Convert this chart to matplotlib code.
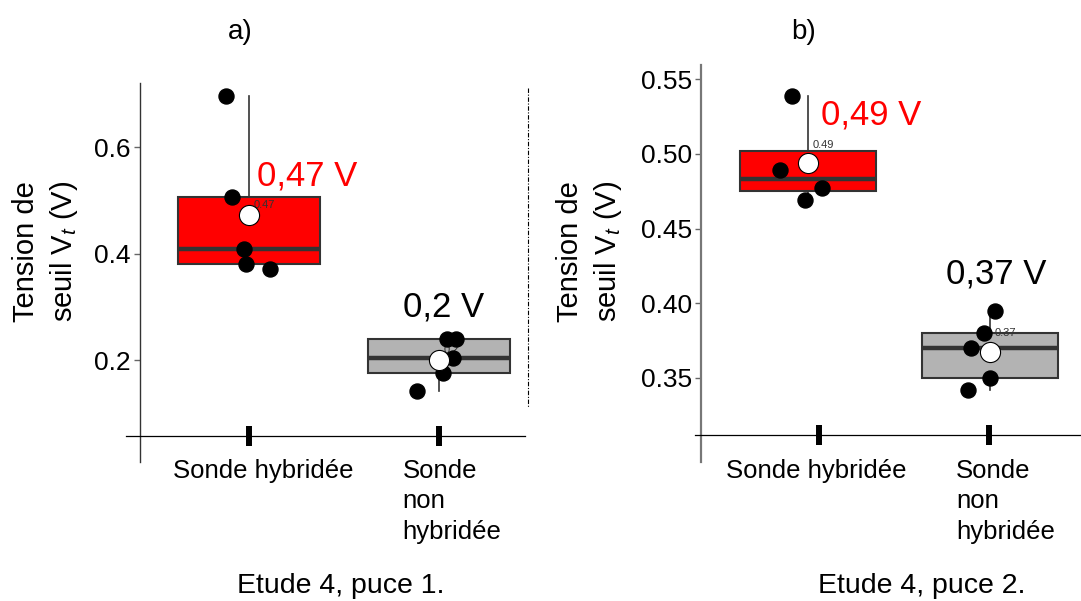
import numpy as np
import matplotlib.pyplot as plt
from matplotlib import transforms
from matplotlib.lines import Line2D
from matplotlib.ticker import FormatStrFormatter

plt.rcParams['font.family'] = ['Liberation Sans', 'DejaVu Sans']
plt.rcParams['mathtext.fontset'] = 'custom'
plt.rcParams['mathtext.rm'] = 'Liberation Sans'
plt.rcParams['mathtext.it'] = 'Liberation Sans:italic'

categories = ['Sonde hybridée', 'Sonde\nnon\nhybridée']
fills = ['#ff0000', '#b3b3b3']
label_colors = ['#ff0000', 'black']

# Etude 4, puce 1 : tension de seuil (V)
p1_hyb = [0.695, 0.507, 0.409, 0.380, 0.371]
p1_non = [0.142, 0.239, 0.240, 0.204, 0.176]
p1_hyb_jit = [-0.122, -0.091, -0.026, -0.016, 0.110]
p1_non_jit = [-0.117, 0.040, 0.089, 0.072, 0.019]
p1_yticks = [0.2, 0.4, 0.6]

# Etude 4, puce 2
p2_hyb = [0.5386, 0.4895, 0.4772, 0.4694]
p2_non = [0.3949, 0.3800, 0.3700, 0.3498, 0.3419]
p2_hyb_jit = [-0.090, -0.152, 0.077, -0.019]
p2_non_jit = [0.025, -0.034, -0.104, 0.000, -0.123]
p2_yticks = [0.35, 0.40, 0.45, 0.50, 0.55]

W, H = 1081, 601
fig = plt.figure(figsize=(W / 100, H / 100), dpi=100)


def px_axes(l, t, r, b):
    return fig.add_axes([l / W, 1 - b / H, (r - l) / W, (b - t) / H])


def fmt_mean(v):
    return f"{round(v, 2):g}"


def draw_panel(box_px, xlim, ylim, data, jit, yticks, yfmt, spine_col, spine_lw,
               axis_px, axis_xlim, lab_dx, big_pos, small_dy, title, title_x,
               caption, caption_x, ylab_x):
    ax = px_axes(*box_px)
    bp = ax.boxplot(data, positions=[0, 1], widths=0.75, patch_artist=True,
                    showfliers=False, showcaps=False,
                    boxprops=dict(edgecolor='#333333', linewidth=1.5),
                    medianprops=dict(color='#333333', linewidth=3.2),
                    whiskerprops=dict(color='#333333', linewidth=1.2))
    for patch, c in zip(bp['boxes'], fills):
        patch.set_facecolor(c)

    for i, (vals, dx) in enumerate(zip(data, jit)):
        m = np.mean(vals)
        ax.plot(i + np.array(dx), vals, 'o', ms=10.8, color='black', zorder=4)
        ax.plot(i, m, 'o', ms=14.5, mfc='white', mec='black', mew=0.8, zorder=5)
        ax.annotate(fmt_mean(m), (i, m), xytext=(3.5, small_dy), textcoords='offset points',
                    ha='left', va='center', fontsize=8, color='#333333', zorder=3.5)
        txt = fmt_mean(m).replace('.', ',') + ' V'
        ax.text(i + big_pos[i][0], big_pos[i][1], txt, color=label_colors[i],
                fontsize=25, ha='center', va='baseline')

    ax.set_xlim(*xlim)
    ax.set_ylim(*ylim)
    ax.set_xticks([])
    ax.set_yticks(yticks)
    ax.yaxis.set_major_formatter(FormatStrFormatter(yfmt))
    ax.tick_params(axis='y', labelsize=19, length=4, width=1, color='#666666', pad=2.5)
    for s in ['top', 'right', 'bottom']:
        ax.spines[s].set_visible(False)
    ax.spines['left'].set_color(spine_col)
    ax.spines['left'].set_linewidth(spine_lw)
    ax.patch.set_alpha(0)

    # separate horizontal axis with heavy tick marks
    l, r, yb = axis_px
    axx = px_axes(l, yb - 1, r, yb)
    axx.set_xlim(*axis_xlim)
    axx.set_ylim(0, 1)
    axx.set_xticks([0, 1])
    axx.set_xticklabels([])
    axx.set_yticks([])
    axx.tick_params(axis='x', direction='inout', length=15, width=4.3, color='black')
    for s in ['top', 'right', 'left']:
        axx.spines[s].set_visible(False)
    axx.spines['bottom'].set_linewidth(0.9)
    axx.patch.set_alpha(0)

    base = transforms.blended_transform_factory(axx.transData, fig.transFigure)
    for i, name in enumerate(categories):
        tr = base + transforms.ScaledTranslation(lab_dx[i] / 100, 0, fig.dpi_scale_trans)
        fig.text(i, 1 - 459 / H, name, transform=tr, fontsize=18.5, ha='center',
                 va='top', multialignment='left', linespacing=1.33)

    fig.text(title_x / W, 1 - 39 / H, title, fontsize=20, ha='center', va='baseline')
    fig.text(caption_x / W, 1 - 593 / H, caption, fontsize=20.5, ha='center', va='baseline')
    fig.text(ylab_x / W, 1 - 251.5 / H, 'Tension de\nseuil V$_t$ (V)', fontsize=21,
             rotation=90, ha='center', va='center', multialignment='center', linespacing=1.3)
    return ax


draw_panel((139.5, 83, 528, 462), (-0.576, 1.468), (0.0085, 0.7202),
           [p1_hyb, p1_non], [p1_hyb_jit, p1_non_jit], p1_yticks, '%.1f',
           '#333333', 1.0, (126, 525, 435.5), (-0.647, 1.453), [14, 13],
           [(0.305, 0.5286), (0.026, 0.2808)], 7,
           'a)', 240.5, 'Etude 4, puce 1.', 340.5, 46)

draw_panel((701, 65, 1081, 462), (-0.588, 1.5), (0.2935, 0.5596),
           [p2_hyb, p2_non], [p2_hyb_jit, p2_non_jit], p2_yticks, '%.2f',
           '#777777', 1.6, (695, 1081, 435), (-0.729, 1.541), [-3, 16.5],
           [(0.349, 0.5196), (0.036, 0.4129)], 13.5,
           'b)', 804, 'Etude 4, puce 2.', 922, 590)

# dash-dot separator on the right of the first panel
fig.add_artist(Line2D([528 / W, 528 / W], [1 - 88 / H, 1 - 407 / H],
                      transform=fig.transFigure, color='black', lw=0.8,
                      linestyle=(0, (4, 1.5, 1, 1.5))))

fig.savefig('out.png', dpi=100, facecolor='white')
